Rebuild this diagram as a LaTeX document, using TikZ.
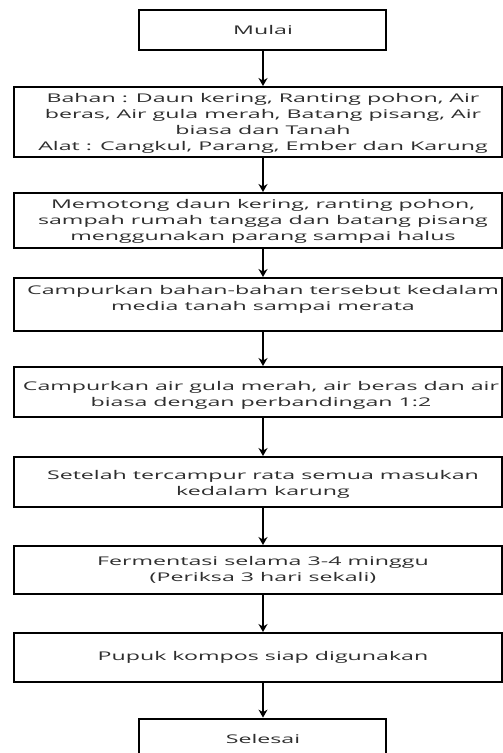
\documentclass[tikz,border=0pt]{standalone}
\usepackage{fontspec}
\setmainfont{Open Sans}[FakeStretch=1.93]
\usetikzlibrary{arrows.meta}
\definecolor{txtgray}{HTML}{2E2E2E}
\begin{document}
\begin{tikzpicture}[x=1pt,y=-1pt,
  wbox/.style={draw=black, line width=2pt, minimum width=488pt, inner sep=0pt},
  tbox/.style={draw=black, line width=2.8pt, minimum width=247pt, inner sep=0pt},
  txt/.style={text=txtgray, align=center, inner sep=0pt, font=\fontsize{12pt}{16pt}\selectfont},
  arr/.style={draw=black, line width=2.2pt, -{Stealth[length=8pt,width=9pt]}}]
\useasboundingbox (0,0) rectangle (503,753);
\fill[white] (0,0) rectangle (503,753);
\coordinate (ax) at (263,0);
% boxes
\node[tbox, minimum height=40pt] (b1) at (262.5,30) {};
\node[wbox, minimum height=70pt] (b2) at (258,122) {};
\node[wbox, minimum height=55pt] (b3) at (258,220.5) {};
\node[wbox, minimum height=53pt] (b4) at (258,304.5) {};
\node[wbox, minimum height=50pt] (b5) at (258,392) {};
\node[wbox, minimum height=50pt] (b6) at (258,482) {};
\node[wbox, minimum height=48pt] (b7) at (258,570) {};
\node[wbox, minimum height=49pt] (b8) at (258,657.5) {};
\node[tbox, minimum height=42pt] (b9) at (262.5,740) {};
% texts
\node[txt] (t1) at (263,30) {Mulai};
\node[txt] (t2) at (263,123) {Bahan : Daun kering, Ranting pohon, Air\\beras, Air gula merah, Batang pisang, Air\\biasa dan Tanah\\Alat : Cangkul, Parang, Ember dan Karung};
\node[txt] (t3) at (263,221) {Memotong daun kering, ranting pohon,\\sampah rumah tangga dan batang pisang\\menggunakan parang sampai halus};
\node[txt] (t4) at (263,299) {Campurkan bahan-bahan tersebut kedalam\\media tanah sampai merata};
\node[txt] (t5) at (261,395) {Campurkan air gula merah, air beras dan air\\biasa dengan perbandingan 1:2};
\node[txt] (t6) at (263,484) {Setelah tercampur rata semua masukan\\kedalam karung};
\node[txt] (t7) at (263,570) {Fermentasi selama 3-4 minggu\\(Periksa 3 hari sekali)};
\node[txt] (t8) at (263,657) {Pupuk kompos siap digunakan};
\node[txt] (t9) at (263,739) {Selesai};
% arrows
\draw[arr] (b1.south -| ax) -- (b2.north -| ax);
\draw[arr] (b2.south -| ax) -- (b3.north -| ax);
\draw[arr] (b3.south -| ax) -- (b4.north -| ax);
\draw[arr] (b4.south -| ax) -- (b5.north -| ax);
\draw[arr] (b5.south -| ax) -- (b6.north -| ax);
\draw[arr] (b6.south -| ax) -- (b7.north -| ax);
\draw[arr] (b7.south -| ax) -- (b8.north -| ax);
\draw[arr] (b8.south -| ax) -- (b9.north -| ax);
\end{tikzpicture}
\end{document}
